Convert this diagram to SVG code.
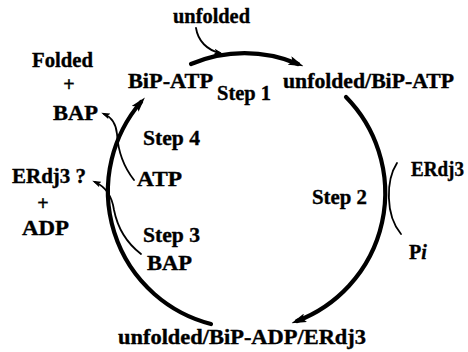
<svg xmlns="http://www.w3.org/2000/svg" width="468" height="352" viewBox="0 0 468 352">
<style>
text{font-family:"Liberation Serif","Times New Roman",serif;font-weight:bold;font-size:20px;fill:#000;stroke:#000;stroke-width:0.35}
.thick{fill:none;stroke:#000;stroke-width:4.2;stroke-linecap:round}
.thin{fill:none;stroke:#000;stroke-width:1.8;stroke-linecap:round}
</style>
<defs>
<marker id="big" markerUnits="userSpaceOnUse" viewBox="0 0 15 9" markerWidth="15" markerHeight="9" refX="9" refY="4.5" orient="auto">
<path d="M0,0 L15,4.5 L0,9 L3,4.5 Z" fill="#000"/>
</marker>
<marker id="small" markerUnits="userSpaceOnUse" viewBox="0 0 9 6" markerWidth="9" markerHeight="6" refX="6" refY="3" orient="auto">
<path d="M0,0 L9,3 L0,6 L2,3 Z" fill="#000"/>
</marker>
</defs>
<g id="connectors">
<path class="thick" d="M191,64 A137,137 0 0 1 298,64" marker-end="url(#big)"/>
<path class="thick" d="M346,97 A137,137 0 0 1 297,321" marker-end="url(#big)"/>
<path class="thick" d="M211,324 A137,137 0 0 1 141,102" marker-end="url(#big)"/>
<path class="thin" d="M196,28 C198,41 207,50 220,53" marker-end="url(#small)"/>
<path class="thin" d="M134,180 C123,166 118,150 117,134 C116,123 111,117 104,114" marker-end="url(#small)"/>
<path class="thin" d="M141,254 C128,244 118,230 114,210 C112,196 106,187 95,182" marker-end="url(#small)"/>
<path class="thin" d="M397,163 C386,180 385,215 401,234"/>
</g>
<g id="bip-atp"><text x="128" y="88" textLength="85" lengthAdjust="spacingAndGlyphs">BiP-ATP</text></g>
<g id="unfolded-bip-atp"><text x="283" y="88" textLength="171" lengthAdjust="spacingAndGlyphs">unfolded/BiP-ATP</text></g>
<g id="unfolded-bip-adp-erdj3"><text x="118" y="344" textLength="248" lengthAdjust="spacingAndGlyphs">unfolded/BiP-ADP/ERdj3</text></g>
<g id="unfolded-in"><text x="173" y="23" textLength="77" lengthAdjust="spacingAndGlyphs">unfolded</text></g>
<g id="step1"><text x="217" y="100" textLength="54" lengthAdjust="spacingAndGlyphs">Step 1</text></g>
<g id="step2"><text x="312" y="204" textLength="55" lengthAdjust="spacingAndGlyphs">Step 2</text></g>
<g id="step3"><text x="143" y="242" textLength="57" lengthAdjust="spacingAndGlyphs">Step 3</text></g>
<g id="step4"><text x="143" y="145" textLength="57" lengthAdjust="spacingAndGlyphs">Step 4</text></g>
<g id="erdj3-in"><text x="411" y="176" textLength="53" lengthAdjust="spacingAndGlyphs">ERdj3</text></g>
<g id="pi-out"><text x="409" y="259">P<tspan font-style="italic">i</tspan></text></g>
<g id="bap-in"><text x="147" y="270" textLength="45" lengthAdjust="spacingAndGlyphs">BAP</text></g>
<g id="erdj3-adp-out">
<text x="12" y="183" textLength="74" lengthAdjust="spacingAndGlyphs">ERdj3 ?</text>
<text x="43" y="210" text-anchor="middle">+</text>
<text x="22" y="235" textLength="47" lengthAdjust="spacingAndGlyphs">ADP</text>
</g>
<g id="atp-in"><text x="137" y="186" textLength="45" lengthAdjust="spacingAndGlyphs">ATP</text></g>
<g id="folded-bap-out">
<text x="32" y="67" textLength="61" lengthAdjust="spacingAndGlyphs">Folded</text>
<text x="69" y="91" text-anchor="middle">+</text>
<text x="53" y="120" textLength="45" lengthAdjust="spacingAndGlyphs">BAP</text>
</g>
</svg>
